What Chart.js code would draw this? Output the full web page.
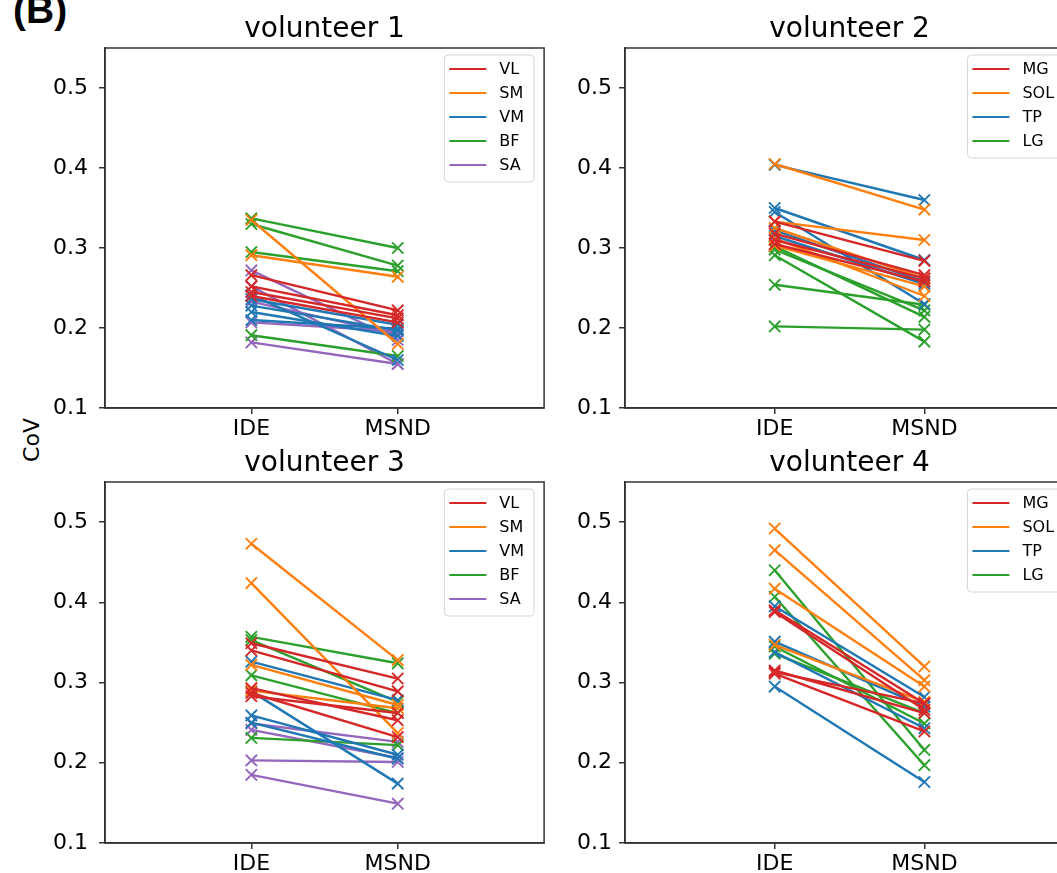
<!DOCTYPE html>
<html>
<head>
<meta charset="utf-8">
<script src="https://cdn.jsdelivr.net/npm/chart.js@4"></script>
<style>
  html, body { margin:0; padding:0; background:#fff; overflow:hidden; }
  #wrap { position:relative; width:1057px; height:873px; overflow:hidden; background:#fff; }
  canvas { position:absolute; }
  #blabel { position:absolute; left:13px; top:-10px; font:bold 39px "Liberation Sans"; color:#000; line-height:1; }
  #cov { position:absolute; left:31px; top:440px; transform:translate(-50%,-50%) rotate(-90deg); font:22px "DejaVu Sans"; color:#000; white-space:nowrap; }
</style>
</head>
<body>
<div id="wrap">
  <div id="blabel">(B)</div>
  <div id="cov">CoV</div>
  <canvas id="c1" width="554" height="440" style="left:0;top:0"></canvas>
  <canvas id="c2" width="524" height="440" style="left:560px;top:0"></canvas>
  <canvas id="c3" width="554" height="439" style="left:0;top:434px"></canvas>
  <canvas id="c4" width="524" height="439" style="left:560px;top:434px"></canvas>
</div>
<script>
// ---- data ----
const categories = ['IDE', 'MSND'];
const yTicks = [0.1, 0.2, 0.3, 0.4, 0.5];
const titles = ['volunteer 1', 'volunteer 2', 'volunteer 3', 'volunteer 4'];
const thighMuscles = ['VL', 'SM', 'VM', 'BF', 'SA'];
const calfMuscles = ['MG', 'SOL', 'TP', 'LG'];

// volunteer 1 (pairs: [IDE, MSND])
const v1VL = [[0.266,0.222],[0.252,0.216],[0.245,0.212],[0.240,0.207]];
const v1SM = [[0.335,0.180],[0.291,0.264]];
const v1VM = [[0.241,0.160],[0.236,0.204],[0.228,0.197],[0.220,0.190],[0.210,0.199]];
const v1BF = [[0.337,0.300],[0.330,0.278],[0.295,0.271],[0.191,0.165]];
const v1SA = [[0.272,0.185],[0.252,0.155],[0.233,0.192],[0.207,0.196],[0.182,0.155]];
// volunteer 2
const v2MG  = [[0.333,0.284],[0.318,0.266],[0.310,0.262],[0.305,0.258]];
const v2SOL = [[0.405,0.348],[0.333,0.310],[0.325,0.262],[0.312,0.240],[0.303,0.252]];
const v2TP  = [[0.404,0.360],[0.350,0.285],[0.345,0.230],[0.322,0.258],[0.315,0.255]];
const v2LG  = [[0.302,0.214],[0.298,0.222],[0.291,0.183],[0.254,0.229],[0.202,0.198]];
// volunteer 3
const v3VL = [[0.349,0.305],[0.340,0.289],[0.293,0.253],[0.287,0.232],[0.283,0.262]];
const v3SM = [[0.473,0.328],[0.424,0.237],[0.322,0.272],[0.290,0.268]];
const v3VM = [[0.326,0.278],[0.289,0.174],[0.259,0.210],[0.250,0.205]];
const v3BF = [[0.357,0.324],[0.353,0.276],[0.309,0.262],[0.231,0.222]];
const v3SA = [[0.249,0.226],[0.241,0.206],[0.203,0.201],[0.185,0.149]];
// volunteer 4
const v4MG  = [[0.390,0.274],[0.388,0.266],[0.313,0.274],[0.311,0.239],[0.315,0.262]];
const v4SOL = [[0.492,0.320],[0.465,0.303],[0.417,0.295],[0.347,0.276]];
const v4TP  = [[0.395,0.282],[0.351,0.270],[0.338,0.243],[0.295,0.176]];
const v4LG  = [[0.440,0.216],[0.407,0.197],[0.345,0.249],[0.336,0.262]];

const colors5 = ['#d62728', '#ff7f0e', '#1f77b4', '#2ca02c', '#9467bd'];
const colors4 = ['#d62728', '#ff7f0e', '#1f77b4', '#2ca02c'];

Chart.defaults.font.family = '"DejaVu Sans", sans-serif';
Chart.defaults.color = '#000';

const framePlugin = {
  id: 'frame',
  afterDraw(chart) {
    const a = chart.chartArea, ctx = chart.ctx;
    ctx.save();
    ctx.strokeStyle = '#333';
    ctx.lineWidth = 1.5;
    ctx.strokeRect(a.left, a.top, a.right - a.left, a.bottom - a.top);
    ctx.restore();
  }
};

const boxLegendPlugin = {
  id: 'boxLegend',
  afterDraw(chart, args, opts) {
    const a = chart.chartArea, ctx = chart.ctx;
    const names = opts.names, cols = opts.colors;
    ctx.save();
    ctx.font = '16px "DejaVu Sans"';
    let maxW = 0;
    names.forEach(n => { maxW = Math.max(maxW, ctx.measureText(n).width); });
    const w = 5 + 37 + 13 + maxW + 10;
    const rowH = 24;
    const h = names.length * rowH + 7;
    const x = a.right - 10 - w;
    const y = a.top + 7;
    ctx.beginPath();
    const r = 4;
    ctx.moveTo(x + r, y);
    ctx.arcTo(x + w, y, x + w, y + h, r);
    ctx.arcTo(x + w, y + h, x, y + h, r);
    ctx.arcTo(x, y + h, x, y, r);
    ctx.arcTo(x, y, x + w, y, r);
    ctx.closePath();
    ctx.fillStyle = 'rgba(255,255,255,0.85)';
    ctx.fill();
    ctx.strokeStyle = '#d6d6d6';
    ctx.lineWidth = 1;
    ctx.stroke();
    names.forEach((n, i) => {
      const cy = y + 14 + i * rowH;
      ctx.strokeStyle = cols[i];
      ctx.lineWidth = 2.2;
      ctx.beginPath();
      ctx.moveTo(x + 5, cy);
      ctx.lineTo(x + 42, cy);
      ctx.stroke();
      ctx.fillStyle = '#000';
      ctx.textBaseline = 'middle';
      ctx.fillText(n, x + 55, cy + 1);
    });
    ctx.restore();
  }
};

function buildDatasets(groups, names, cols) {
  const ds = [];
  groups.forEach((pairs, gi) => {
    pairs.forEach(p => {
      ds.push({
        label: names[gi],
        data: [{x: 0, y: p[0]}, {x: 1, y: p[1]}],
        borderColor: cols[gi],
        backgroundColor: cols[gi],
        borderWidth: 2.4,
        pointStyle: 'crossRot',
        pointRadius: 8,
        pointBorderWidth: 1.9,
        pointBorderColor: cols[gi],
        fill: false,
        tension: 0
      });
    });
  });
  return ds;
}

function makeChart(id, title, names, cols, groups, yW, xH, yPad) {
  return new Chart(document.getElementById(id), {
    type: 'line',
    data: { datasets: buildDatasets(groups, names, cols) },
    plugins: [framePlugin, boxLegendPlugin],
    options: {
      responsive: false,
      maintainAspectRatio: false,
      animation: false,
      layout: { padding: 0 },
      plugins: {
        legend: { display: false },
        tooltip: { enabled: false },
        title: {
          display: true,
          text: title,
          fullSize: false,
          color: '#000',
          font: { size: 28, weight: 'normal' },
          padding: { top: 13.4, bottom: 1 }
        },
        boxLegend: { names: names, colors: cols }
      },
      scales: {
        x: {
          type: 'linear',
          min: -1, max: 2,
          afterBuildTicks: s => { s.ticks = [{value: 0}, {value: 1}]; },
          afterFit: s => { s.height = xH; },
          ticks: {
            callback: v => categories[v],
            font: { size: 22 },
            color: '#000',
            padding: 2,
            maxRotation: 0,
            autoSkip: false
          },
          grid: { drawOnChartArea: false, drawTicks: true, tickLength: 6, color: '#333', lineWidth: 1.5 },
          border: { display: true, color: '#333', width: 1.5 }
        },
        y: {
          type: 'linear',
          min: 0.1, max: 0.55,
          afterBuildTicks: s => { s.ticks = yTicks.map(v => ({value: v})); },
          afterFit: s => { s.width = yW; },
          ticks: {
            callback: v => v.toFixed(1),
            font: { size: 22 },
            color: '#000',
            padding: yPad
          },
          grid: { drawOnChartArea: false, drawTicks: true, tickLength: 6, color: '#333', lineWidth: 1.5 },
          border: { display: true, color: '#333', width: 1.5 }
        }
      }
    }
  });
}

makeChart('c1', titles[0], thighMuscles, colors5, [v1VL, v1SM, v1VM, v1BF, v1SA], 105, 32, 11);
makeChart('c2', titles[1], calfMuscles, colors4, [v2MG, v2SOL, v2TP, v2LG], 65, 32, 7);
makeChart('c3', titles[2], thighMuscles, colors5, [v3VL, v3SM, v3VM, v3BF, v3SA], 105, 30, 11);
makeChart('c4', titles[3], calfMuscles, colors4, [v4MG, v4SOL, v4TP, v4LG], 65, 30, 7);
</script>
</body>
</html>
